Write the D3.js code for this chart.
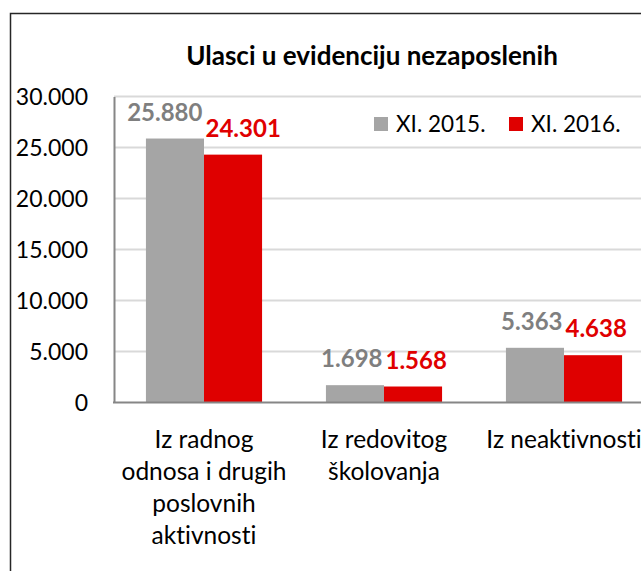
<!DOCTYPE html>
<html>
<head>
<meta charset="utf-8">
<script src="https://cdn.jsdelivr.net/npm/d3@7"></script>
<style>
    body { margin: 0; background: #fff; }
    text { font-family: Lato, "Open Sans", sans-serif; font-variant-ligatures: none; }
</style>
</head>
<body>
<div id="chart"></div>
<script>
// data
let categories = ["Iz radnog\nodnosa i drugih\nposlovnih\naktivnosti", "Iz redovitog\nškolovanja", "Iz neaktivnosti"];
let seriesNames = ["XI. 2015.", "XI. 2016."];
let values2015 = [25880, 1698, 5363];
let values2016 = [24301, 1568, 4638];
let yTicks = [0, 5000, 10000, 15000, 20000, 25000, 30000];
let chartTitle = "Ulasci u evidenciju nezaposlenih";

let colors = ["#A5A5A5", "#DF0000"];
let labelColors = ["#7F7F7F", "#E00000"];

let width = 641, height = 571;
let margin = { top: 96.5, right: -13, bottom: 168.5, left: 114 };

let svg = d3.select("#chart").append("svg")
    .attr("width", width)
    .attr("height", height);

svg.append("rect")
    .attr("width", width).attr("height", height)
    .attr("fill", "#fff");

// chart frame (runs off the right and bottom edges)
svg.append("rect")
    .attr("x", 10.5).attr("y", 13.5)
    .attr("width", 700).attr("height", 700)
    .attr("fill", "none")
    .attr("stroke", "#262626")
    .attr("stroke-width", 1.5);

let locale = d3.formatLocale({ decimal: ",", thousands: ".", grouping: [3], currency: ["", ""] });
let fmt = locale.format(",d");

// scales
let yScale = d3.scaleLinear()
    .domain([0, 30000])
    .range([height - margin.bottom, margin.top]);

let xScale = d3.scaleBand()
    .domain(categories)
    .range([margin.left, width - margin.right])
    .padding(0);

let xInner = d3.scaleBand()
    .domain(seriesNames)
    .range([0, xScale.bandwidth()])
    .paddingInner(0)
    .paddingOuter(0.55);

// gridlines
svg.append("g")
    .selectAll("line")
    .data(yTicks.filter(d => d > 0))
    .enter()
    .append("line")
    .attr("x1", margin.left).attr("x2", width + 20)
    .attr("y1", d => yScale(d)).attr("y2", d => yScale(d))
    .attr("stroke", "#D9D9D9")
    .attr("stroke-width", 2);

// y axis
let yAxis = d3.axisLeft(yScale)
    .tickValues(yTicks)
    .tickFormat(fmt)
    .tickSize(0)
    .tickPadding(26);

let yAxisGroup = svg.append("g")
    .attr("class", "y-axis axis")
    .attr("transform", "translate(" + margin.left + ",0)")
    .call(yAxis);

yAxisGroup.select(".domain")
    .attr("stroke", "#868686")
    .attr("stroke-width", 2);

yAxisGroup.selectAll("text")
    .style("font-family", "Lato")
    .style("font-size", "23px")
    .attr("fill", "#000")
    .attr("dy", "0.36em");

// bars
let groups = svg.append("g")
    .selectAll("g")
    .data(categories)
    .enter()
    .append("g")
    .attr("transform", d => "translate(" + xScale(d) + ",0)");

let barData = (d, i) => seriesNames.map((s, j) => ({ series: s, j: j, value: [values2015, values2016][j][i] }));

groups.selectAll("rect")
    .data(barData)
    .enter()
    .append("rect")
    .attr("x", d => xInner(d.series))
    .attr("y", d => yScale(d.value))
    .attr("width", xInner.bandwidth())
    .attr("height", d => yScale(0) - yScale(d.value))
    .attr("fill", d => colors[d.j]);

// value labels
groups.selectAll("text.value")
    .data(barData)
    .enter()
    .append("text")
    .attr("class", "value")
    .text(d => fmt(d.value))
    .attr("x", d => xInner(d.series) + xInner.bandwidth() / 2)
    .attr("y", d => yScale(d.value) - 18)
    .attr("text-anchor", "middle")
    .style("font-size", "24px")
    .style("font-weight", "bold")
    .attr("fill", d => labelColors[d.j]);

// push the two labels of a group apart when they collide
groups.each(function() {
    let labels = d3.select(this).selectAll("text.value").nodes();
    let a = labels[0].getBBox(), b = labels[1].getBBox();
    let gap = 3;
    let overlapX = a.x + a.width + gap - b.x;
    let overlapY = a.y < b.y + b.height && b.y < a.y + a.height;
    if (overlapX > 0 && overlapY) {
        d3.select(labels[0]).attr("x", +labels[0].getAttribute("x") - overlapX / 2);
        d3.select(labels[1]).attr("x", +labels[1].getAttribute("x") + overlapX / 2);
    }
});

// x axis line
svg.append("line")
    .attr("x1", margin.left - 1).attr("x2", width + 20)
    .attr("y1", yScale(0)).attr("y2", yScale(0))
    .attr("stroke", "#868686")
    .attr("stroke-width", 2);

// category labels, one tspan per line
let catLabels = svg.append("g")
    .selectAll("text")
    .data(categories)
    .enter()
    .append("text")
    .attr("text-anchor", "middle")
    .style("font-size", "24.5px")
    .attr("fill", "#000");

catLabels.selectAll("tspan")
    .data(d => d.split("\n").map(line => ({ line: line, cat: d })))
    .enter()
    .append("tspan")
    .attr("x", d => xScale(d.cat) + xScale.bandwidth() / 2)
    .attr("y", (d, i) => yScale(0) + 45.5 + i * 32)
    .text(d => d.line);

// title
svg.append("text")
    .text(chartTitle)
    .attr("x", 372)
    .attr("y", 65)
    .attr("text-anchor", "middle")
    .style("font-size", "26px")
    .style("font-weight", "bold")
    .attr("fill", "#000");

// legend
let legend = svg.append("g")
    .selectAll("g")
    .data(seriesNames)
    .enter()
    .append("g")
    .attr("transform", (d, i) => "translate(" + (374 + i * 135) + ",117)");

legend.append("rect")
    .attr("width", 14).attr("height", 14)
    .attr("fill", (d, i) => colors[i]);

legend.append("text")
    .text(d => d)
    .attr("x", 22)
    .attr("y", 15)
    .style("font-size", "22.5px")
    .attr("fill", "#000");
</script>
</body>
</html>
